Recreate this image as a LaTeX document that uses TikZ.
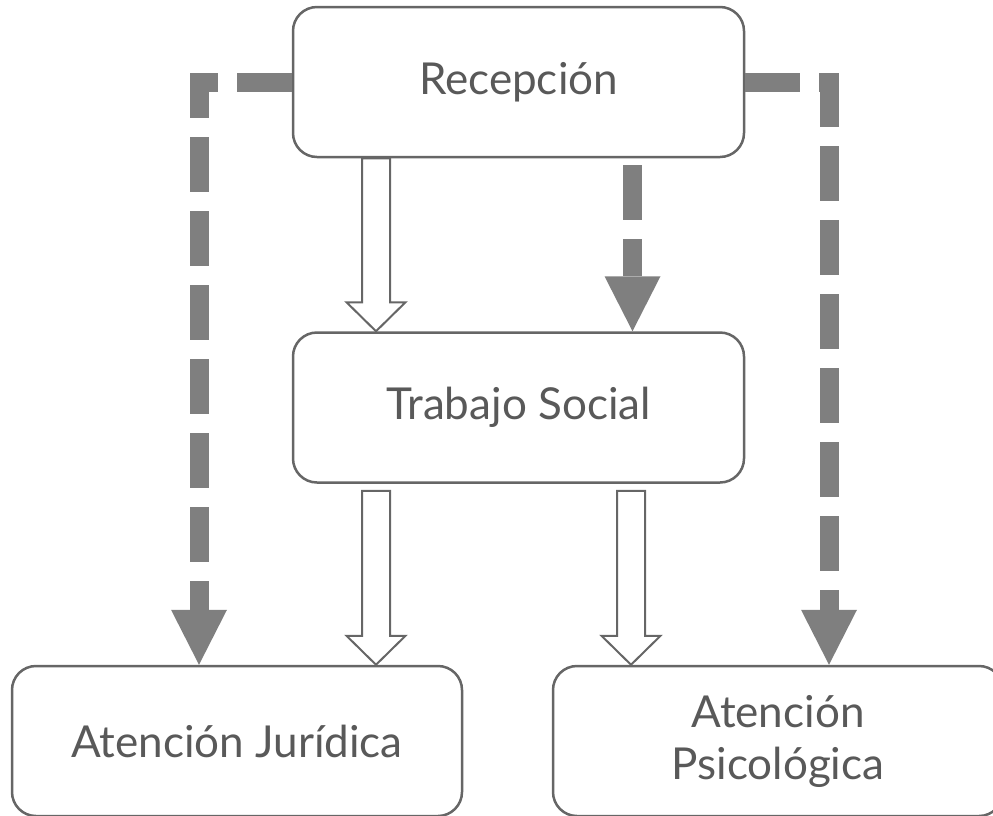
\documentclass[tikz,border=0pt]{standalone}
\usepackage{fontspec}
\setmainfont{Lato}
\usetikzlibrary{arrows.meta,calc}
\definecolor{dashgray}{HTML}{7F7F7F}
\definecolor{linegray}{HTML}{666666}
\definecolor{textgray}{HTML}{595959}
\tikzset{
  box/.style={draw=linegray, line width=2.5pt, rounded corners=24pt, fill=white,
    minimum width=450pt, minimum height=150pt, text=textgray, align=center,
    font=\fontsize{44}{52}\selectfont},
  dasharrow/.style={draw=dashgray, line width=19pt, dash pattern=on 55pt off 19pt,
    line join=miter, line cap=butt,
    -{Triangle[length=55pt,width=56pt,line width=0pt]}},
  hollow/.style={draw=linegray, line width=2pt, fill=white, line join=miter}
}
\newcommand{\hollowarrow}[2]{%
  \path[hollow] ($(#1)+(-14,0)$) -- ($(#2)+(-14,-29)$) -- ($(#2)+(-29.5,-29)$) -- (#2)
    -- ($(#2)+(29.5,-29)$) -- ($(#2)+(14,-29)$) -- ($(#1)+(14,0)$) -- cycle;}
\begin{document}
\begin{tikzpicture}[x=1pt,y=-1pt]
\useasboundingbox (0,0) rectangle (993,815);
\node[box, minimum width=451pt] (rec) at (518.5,82) {Recepción};
\node[box, minimum width=451pt] (ts) at (518.5,407.5) {Trabajo Social};
\node[box] (jur) at (237,741) {Atención Jurídica};
\node[box] (psi) at (778,741) {Atención\\Psicológica};
% dashed connectors
\draw[dasharrow] (rec.west) -| ($(jur.north)+(-38,0)$);
\draw[dasharrow] (rec.east) -| ($(psi.north)+(51,0)$);
\draw[dasharrow] ($(rec.south)+(114,7)$) -- ($(ts.north)+(114,0)$);
% hollow arrows
\coordinate (a1s) at ($(rec.south)+(-142.5,0)$);
\coordinate (a1e) at ($(ts.north)+(-142.5,0)$);
\coordinate (a2s) at ($(ts.south)+(-142.5,7)$);
\coordinate (a2e) at (a2s |- jur.north);
\coordinate (a3s) at ($(ts.south)+(112.5,7)$);
\coordinate (a3e) at (a3s |- psi.north);
\hollowarrow{a1s}{a1e}
\hollowarrow{a2s}{a2e}
\hollowarrow{a3s}{a3e}
\end{tikzpicture}
\end{document}
